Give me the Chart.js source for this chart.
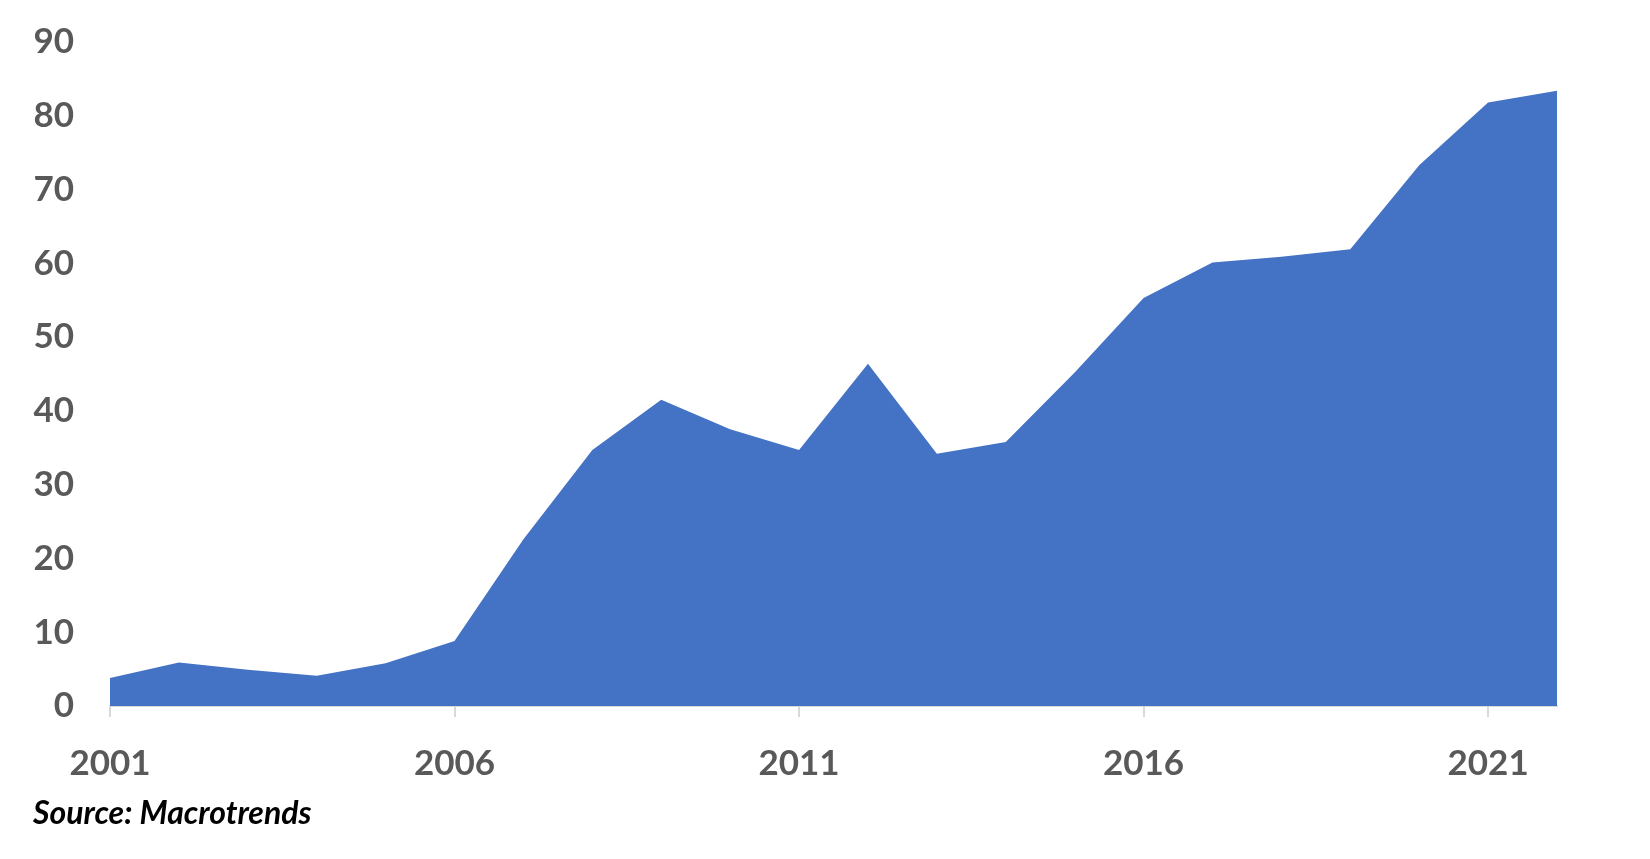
<!DOCTYPE html>
<html>
<head>
<meta charset="utf-8">
<script src="https://cdn.jsdelivr.net/npm/chart.js@4.4.0/dist/chart.umd.min.js"></script>
<style>
  html, body { margin: 0; padding: 0; background: #fff; }
  #wrap { position: relative; width: 1650px; height: 859px; }
  #source {
    position: absolute; left: 33px; top: 792px;
    font-family: Lato, sans-serif; font-weight: bold; font-style: italic;
    font-size: 32px; color: #000; line-height: 40px;
  }
</style>
</head>
<body>
<div id="wrap">
  <canvas id="areaChart" width="1650" height="859"></canvas>
  <div id="source">Source: Macrotrends</div>
</div>
<script>
var years = ["2001", "2002", "2003", "2004", "2005", "2006", "2007", "2008", "2009", "2010", "2011",
             "2012", "2013", "2014", "2015", "2016", "2017", "2018", "2019", "2020", "2021", "2022"];
var values = [3.8, 5.9, 4.9, 4.1, 5.8, 8.8, 22.6, 34.7, 41.5, 37.5, 34.7,
              46.4, 34.2, 35.8, 45.2, 55.3, 60.1, 60.9, 61.9, 73.3, 81.8, 83.4];
var yTicks = [0, 10, 20, 30, 40, 50, 60, 70, 80, 90];
var labelEvery = 5;

var axisFont = { family: "Lato, sans-serif", size: 35, weight: "bold" };

var config = {
    type: 'line',
    data: {
        labels: years,
        datasets: [{
            data: values,
            fill: 'origin',
            backgroundColor: '#4472C4',
            borderWidth: 0,
            borderColor: '#4472C4',
            pointRadius: 0,
            tension: 0
        }]
    },
    options: {
        responsive: false,
        animation: false,
        layout: { padding: { top: 42, right: 93, left: 0, bottom: 0 } },
        plugins: {
            legend: { display: false },
            title: { display: false },
            tooltip: { enabled: false }
        },
        scales: {
            x: {
                type: 'category',
                offset: false,
                border: { display: true, color: '#d9d9d9', width: 2 },
                grid: {
                    drawOnChartArea: false,
                    drawTicks: true,
                    tickLength: 11,
                    lineWidth: 2,
                    color: function (ctx) {
                        return (ctx.index % labelEvery === 0) ? '#d9d9d9' : 'rgba(0,0,0,0)';
                    }
                },
                ticks: {
                    autoSkip: false,
                    maxRotation: 0,
                    color: '#595959',
                    font: axisFont,
                    padding: 26,
                    callback: function (val, i) {
                        return (i % labelEvery === 0) ? years[i] : '';
                    }
                },
                afterFit: function (scale) {
                    scale.height = 153;
                    scale.paddingLeft = 0;
                    scale.paddingRight = 0;
                }
            },
            y: {
                min: 0,
                max: 90,
                border: { display: false },
                grid: { display: false },
                afterBuildTicks: function (scale) {
                    scale.ticks = yTicks.map(function (v) { return { value: v }; });
                },
                ticks: {
                    color: '#595959',
                    font: axisFont,
                    padding: 28
                },
                afterFit: function (scale) {
                    scale.width = 110;
                    scale.paddingTop = 0;
                    scale.paddingBottom = 0;
                }
            }
        }
    }
};

var ctx = document.getElementById("areaChart").getContext("2d");
var areaChart = new Chart(ctx, config);
</script>
</body>
</html>
